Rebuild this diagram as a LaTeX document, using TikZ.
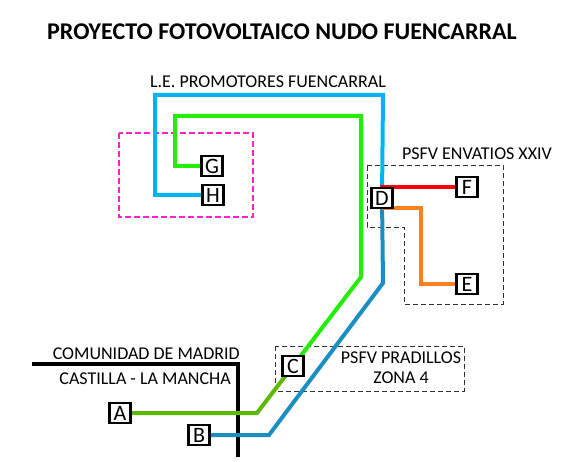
\documentclass[tikz,border=0pt]{standalone}
\usepackage{fontspec}
\setmainfont{Carlito}
\begin{document}
\begin{tikzpicture}[x=1pt,y=-1pt,
  lbl/.style={draw=black,line width=2.6pt,fill=white,minimum width=21pt,minimum height=20pt,inner sep=0pt,font=\fontsize{22}{22}\selectfont},
  txt/.style={font=\fontsize{18}{20}\selectfont,inner sep=0pt},
  cable/.style={line width=4pt},
  zone/.style={draw=black!80,line width=0.9pt,dash pattern=on 5pt off 3pt}]
\definecolor{lblue}{HTML}{00B4F0}
\definecolor{dblue}{HTML}{1A8EC0}
\definecolor{bgreen}{HTML}{22EE00}
\definecolor{ygreen}{HTML}{5DB800}
\definecolor{myorange}{HTML}{FF8020}
\definecolor{mymag}{HTML}{FF22CC}
\useasboundingbox (0,0) rectangle (588,462);
\node[font=\bfseries\fontsize{24}{26}\selectfont] (title) at (282,32) {PROYECTO FOTOVOLTAICO NUDO FUENCARRAL};
% zones
\draw[mymag,line width=2pt,dash pattern=on 6pt off 3pt] (119,133) rectangle (253,217);
\draw[zone] (367,165) -- (503,165) -- (503,304) -- (404,304) -- (404,227) -- (367,227) -- cycle;
\draw[zone] (275,346) rectangle (464,391);
\node[txt] (t1) at (268,82) {L.E. PROMOTORES FUENCARRAL};
\node[txt] (t2) at (477,154) {PSFV ENVATIOS XXIV};
\node[txt,align=center] (t3) at (401,368) {PSFV PRADILLOS\\ZONA 4};
% border
\draw[line width=3.5pt] (32,364) -- (238,364) -- (238,457);
\node[txt,anchor=base east] (cm) at (240,359) {COMUNIDAD DE MADRID};
\node[txt,anchor=base east] (cl) at (231,384) {CASTILLA - LA MANCHA};
% nodes
\coordinate (pA) at (120,413);
\coordinate (pB) at (199,435);
\coordinate (pC) at (293,366);
\coordinate (pD) at (382,198);
\coordinate (pE) at (467,284);
\coordinate (pF) at (467,187);
\coordinate (pG) at (212,166);
\coordinate (pH) at (213,195);
% cables
\draw[cable,lblue] (pH) -- (155,195) -- (155,95) -- (383,95) -- (pD);
\draw[cable,bgreen] (pG) -- (175,166) -- (175,116) -- (361,116) -- (361,277) -- (pC);
\draw[cable,ygreen] (pC) -- (257,413) -- (pA);
\draw[cable,dblue] (pD) -- (383,283) -- (269,435) -- (pB);
\draw[cable,red] (pD) -- (pD |- pF) -- (pF);
\draw[cable,myorange] (pD) ++(0,10) -- (421,208) -- (421,284) -- (pE);
\node[lbl] (A) at (pA) {A};
\node[lbl] (B) at (pB) {B};
\node[lbl] (C) at (pC) {C};
\node[lbl] (D) at (pD) {D};
\node[lbl] (E) at (pE) {E};
\node[lbl] (F) at (pF) {F};
\node[lbl] (G) at (pG) {G};
\node[lbl] (H) at (pH) {H};
\end{tikzpicture}
\end{document}
